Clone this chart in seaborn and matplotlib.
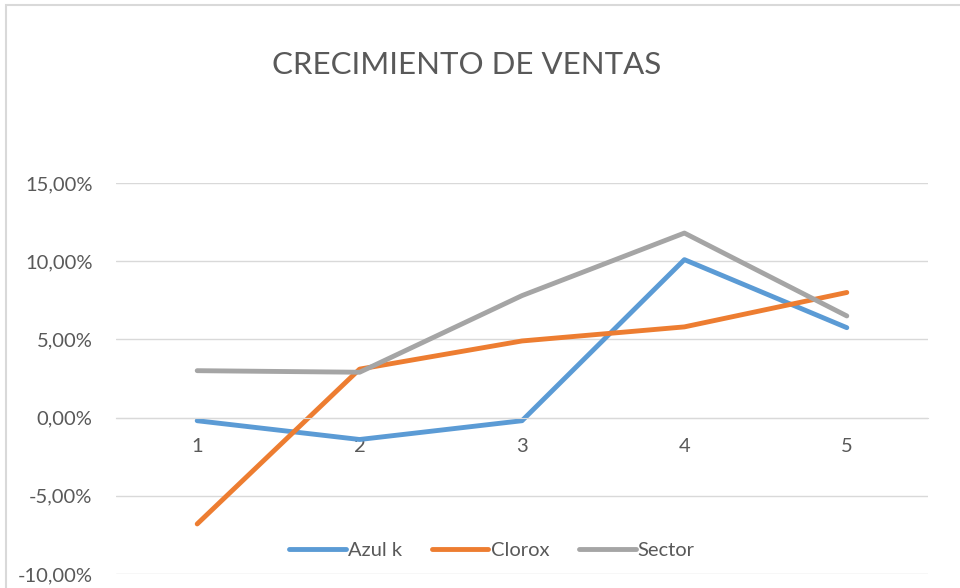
import pandas as pd
import matplotlib.pyplot as plt
import seaborn as sns
from matplotlib.ticker import FuncFormatter
from matplotlib.patches import Rectangle

# values (percent)
periodos = [1, 2, 3, 4, 5]
azul_k = [-0.2, -1.4, -0.2, 10.1, 5.75]
clorox = [-6.8, 3.1, 4.9, 5.8, 8.0]
sector = [3.0, 2.9, 7.8, 11.8, 6.5]

series = ['Azul k', 'Clorox', 'Sector']
colores = ['#5B9BD5', '#ED7D31', '#A5A5A5']

df = pd.DataFrame({
    'Periodo': periodos * 3,
    'Crecimiento': azul_k + clorox + sector,
    'Serie': [s for s in series for _ in periodos],
})

sns.set_style('white')
plt.rcParams['font.family'] = ['Lato', 'DejaVu Sans']
gris = '#595959'

fig = plt.figure(figsize=(9.6, 5.88), dpi=100)
ax = fig.add_axes([116 / 960, 1 - 574 / 588, (928 - 116) / 960, (574 - 183) / 588])

sns.lineplot(data=df, x='Periodo', y='Crecimiento', hue='Serie',
             palette=colores, linewidth=3.5, ax=ax, legend=False,
             solid_capstyle='round')

ax.set_xlim(0.5, 5.5)
ax.set_ylim(-10, 15)
ax.set_yticks([-10, -5, 0, 5, 10, 15])
ax.yaxis.set_major_formatter(FuncFormatter(lambda v, p: f'{v:.2f}%'.replace('.', ',')))
ax.set_xticks(periodos)
ax.set_xticklabels([str(p) for p in periodos])
ax.grid(axis='y', color='#d9d9d9', linewidth=1)
ax.set_axisbelow(True)
for s in ['top', 'right', 'left']:
    ax.spines[s].set_visible(False)
ax.spines['bottom'].set_position(('data', 0))
ax.spines['bottom'].set_color('#d9d9d9')
ax.tick_params(axis='both', length=0, labelsize=14.5, colors=gris)
ax.tick_params(axis='y', pad=17)
ax.tick_params(axis='x', pad=15)
ax.set_xlabel('')
ax.set_ylabel('')

fig.text(467 / 960, 1 - 65 / 588, 'CRECIMIENTO DE VENTAS', ha='center', va='center',
         fontsize=22.5, color=gris)

handles = [plt.Line2D([], [], color=c, linewidth=3.5, solid_capstyle='round') for c in colores]
fig.legend(handles, series, loc='center', bbox_to_anchor=(492 / 960, 1 - 550 / 588),
           ncol=3, frameon=False, fontsize=14.5, handlelength=2.8, handletextpad=0.1,
           columnspacing=1.5, labelcolor=gris)

# chart border
fig.patches.append(Rectangle((6 / 960, -0.1), 1.2, 1.1 - 5 / 588, transform=fig.transFigure,
                             fill=False, edgecolor='#d9d9d9', linewidth=1.5))

fig.savefig('out.png', dpi=100)
